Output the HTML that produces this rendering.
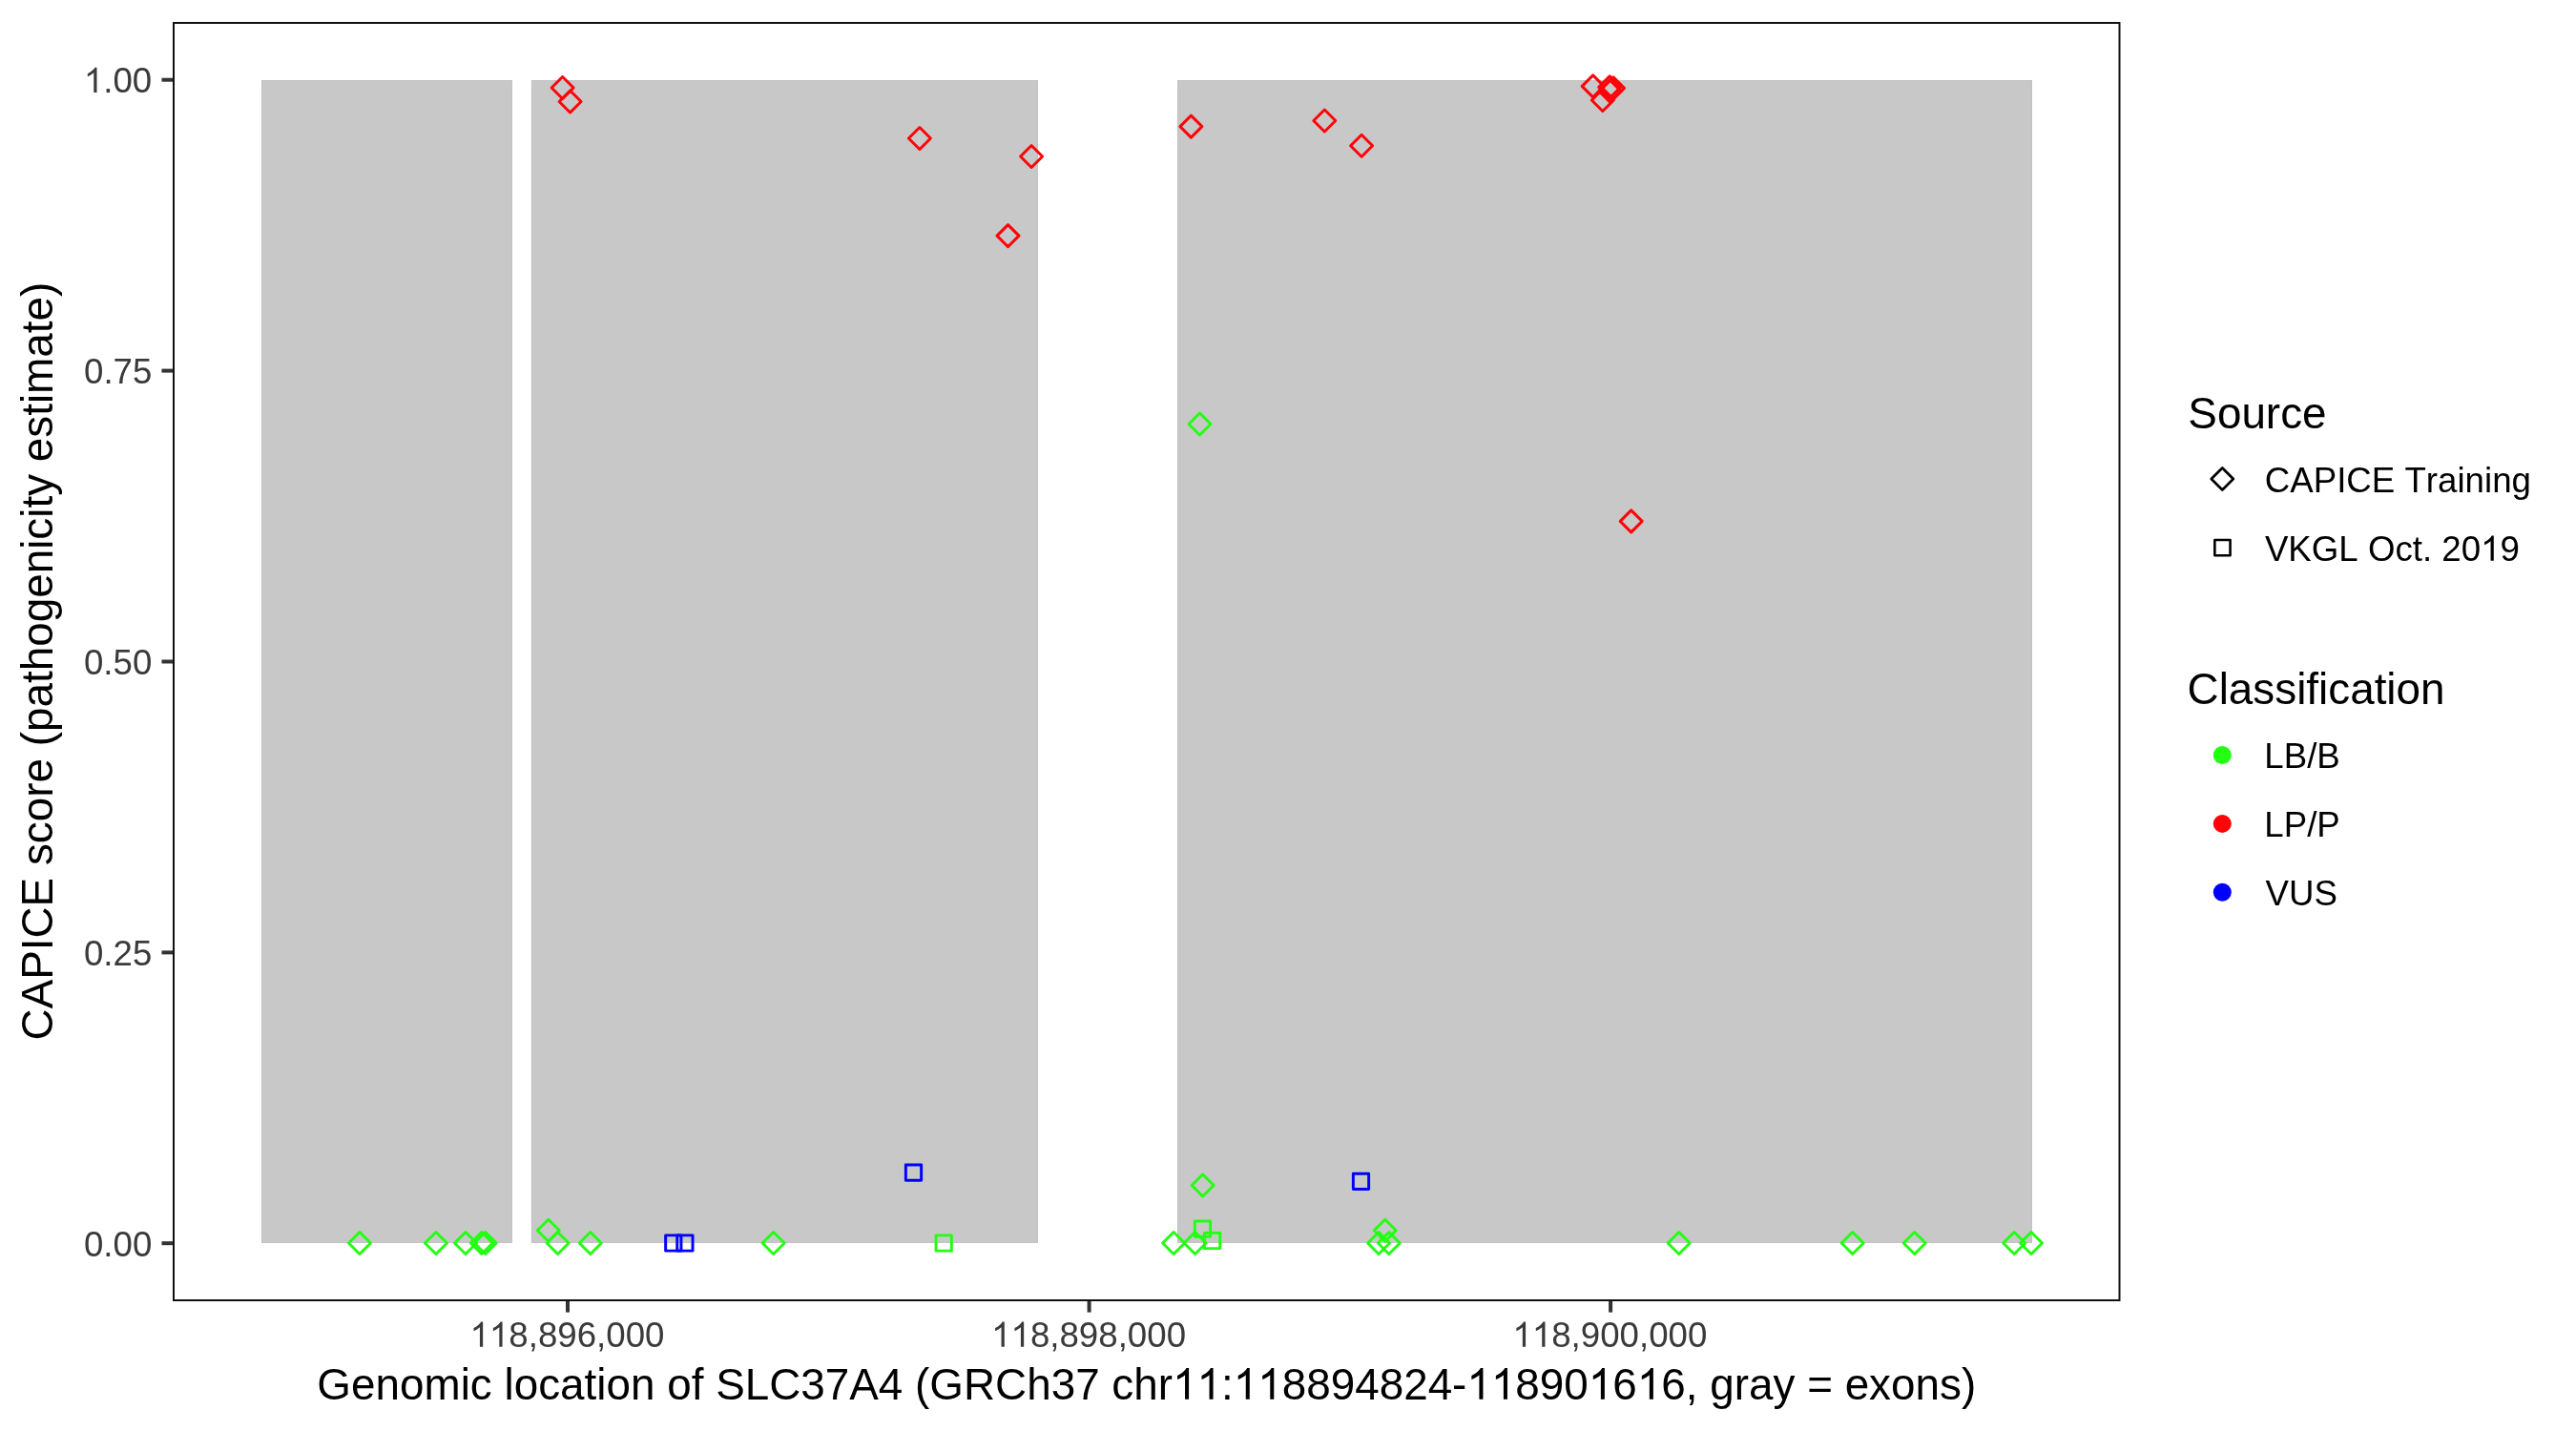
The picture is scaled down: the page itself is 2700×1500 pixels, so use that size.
<!DOCTYPE html>
<html><head><meta charset="utf-8"><style>
html,body{margin:0;padding:0;background:#fff;width:2700px;height:1500px;overflow:hidden}
svg{display:block;will-change:transform;font-family:"Liberation Sans",sans-serif;font-kerning:none}
text{font-kerning:none}
</style></head><body>
<svg width="2700" height="1500" viewBox="0 0 2700 1500">
<rect x="0" y="0" width="2700" height="1500" fill="#FFFFFF"/>
<rect x="274.07" y="84.05" width="262.77" height="1218.95" fill="#C8C8C8"/><rect x="274.57" y="84.55" width="261.77" height="1217.95" fill="none" stroke="#C2C2C2" stroke-width="1"/><rect x="556.93" y="84.05" width="530.90" height="1218.95" fill="#C8C8C8"/><rect x="557.43" y="84.55" width="529.90" height="1217.95" fill="none" stroke="#C2C2C2" stroke-width="1"/><rect x="1234.07" y="84.05" width="895.88" height="1218.95" fill="#C8C8C8"/><rect x="1234.57" y="84.55" width="894.88" height="1217.95" fill="none" stroke="#C2C2C2" stroke-width="1"/>
<path d="M1245.99 444.50L1257.50 432.99L1269.01 444.50L1257.50 456.01Z" fill="none" stroke="#22FF11" stroke-width="2.95" stroke-linejoin="round"/><path d="M1249.15 1242.50L1260.66 1230.99L1272.17 1242.50L1260.66 1254.01Z" fill="none" stroke="#22FF11" stroke-width="2.95" stroke-linejoin="round"/><path d="M365.46 1303.00L376.97 1291.49L388.48 1303.00L376.97 1314.51Z" fill="none" stroke="#22FF11" stroke-width="2.95" stroke-linejoin="round"/><path d="M445.43 1303.00L456.94 1291.49L468.45 1303.00L456.94 1314.51Z" fill="none" stroke="#22FF11" stroke-width="2.95" stroke-linejoin="round"/><path d="M476.49 1303.00L488.00 1291.49L499.51 1303.00L488.00 1314.51Z" fill="none" stroke="#22FF11" stroke-width="2.95" stroke-linejoin="round"/><path d="M493.33 1303.00L504.84 1291.49L516.35 1303.00L504.84 1314.51Z" fill="none" stroke="#22FF11" stroke-width="2.95" stroke-linejoin="round"/><path d="M497.19 1303.00L508.70 1291.49L520.21 1303.00L508.70 1314.51Z" fill="none" stroke="#22FF11" stroke-width="2.95" stroke-linejoin="round"/><path d="M563.27 1289.78L574.78 1278.27L586.29 1289.78L574.78 1301.29Z" fill="none" stroke="#22FF11" stroke-width="2.95" stroke-linejoin="round"/><path d="M573.06 1303.00L584.57 1291.49L596.08 1303.00L584.57 1314.51Z" fill="none" stroke="#22FF11" stroke-width="2.95" stroke-linejoin="round"/><path d="M607.29 1303.00L618.80 1291.49L630.31 1303.00L618.80 1314.51Z" fill="none" stroke="#22FF11" stroke-width="2.95" stroke-linejoin="round"/><path d="M799.14 1303.00L810.65 1291.49L822.16 1303.00L810.65 1314.51Z" fill="none" stroke="#22FF11" stroke-width="2.95" stroke-linejoin="round"/><path d="M1218.62 1303.00L1230.13 1291.49L1241.64 1303.00L1230.13 1314.51Z" fill="none" stroke="#22FF11" stroke-width="2.95" stroke-linejoin="round"/><path d="M1241.09 1303.00L1252.60 1291.49L1264.11 1303.00L1252.60 1314.51Z" fill="none" stroke="#22FF11" stroke-width="2.95" stroke-linejoin="round"/><path d="M1440.23 1289.70L1451.74 1278.19L1463.25 1289.70L1451.74 1301.21Z" fill="none" stroke="#22FF11" stroke-width="2.95" stroke-linejoin="round"/><path d="M1433.59 1303.00L1445.10 1291.49L1456.61 1303.00L1445.10 1314.51Z" fill="none" stroke="#22FF11" stroke-width="2.95" stroke-linejoin="round"/><path d="M1444.29 1303.00L1455.80 1291.49L1467.31 1303.00L1455.80 1314.51Z" fill="none" stroke="#22FF11" stroke-width="2.95" stroke-linejoin="round"/><path d="M1748.16 1303.00L1759.67 1291.49L1771.18 1303.00L1759.67 1314.51Z" fill="none" stroke="#22FF11" stroke-width="2.95" stroke-linejoin="round"/><path d="M1930.19 1303.00L1941.70 1291.49L1953.21 1303.00L1941.70 1314.51Z" fill="none" stroke="#22FF11" stroke-width="2.95" stroke-linejoin="round"/><path d="M1995.19 1303.00L2006.70 1291.49L2018.21 1303.00L2006.70 1314.51Z" fill="none" stroke="#22FF11" stroke-width="2.95" stroke-linejoin="round"/><path d="M2099.69 1303.00L2111.20 1291.49L2122.71 1303.00L2111.20 1314.51Z" fill="none" stroke="#22FF11" stroke-width="2.95" stroke-linejoin="round"/><path d="M2117.49 1303.00L2129.00 1291.49L2140.51 1303.00L2129.00 1314.51Z" fill="none" stroke="#22FF11" stroke-width="2.95" stroke-linejoin="round"/><rect x="981.06" y="1294.86" width="16.28" height="16.28" fill="none" stroke="#22FF11" stroke-width="2.95" stroke-linejoin="round"/><rect x="1252.36" y="1279.96" width="16.28" height="16.28" fill="none" stroke="#22FF11" stroke-width="2.95" stroke-linejoin="round"/><rect x="1262.46" y="1292.36" width="16.28" height="16.28" fill="none" stroke="#22FF11" stroke-width="2.95" stroke-linejoin="round"/><rect x="697.66" y="1294.86" width="16.28" height="16.28" fill="none" stroke="#0000FF" stroke-width="2.95" stroke-linejoin="round"/><rect x="709.76" y="1294.86" width="16.28" height="16.28" fill="none" stroke="#0000FF" stroke-width="2.95" stroke-linejoin="round"/><rect x="949.36" y="1221.06" width="16.28" height="16.28" fill="none" stroke="#0000FF" stroke-width="2.95" stroke-linejoin="round"/><rect x="1418.36" y="1230.26" width="16.28" height="16.28" fill="none" stroke="#0000FF" stroke-width="2.95" stroke-linejoin="round"/><path d="M578.09 92.00L589.60 80.49L601.11 92.00L589.60 103.51Z" fill="none" stroke="#FF0308" stroke-width="2.95" stroke-linejoin="round"/><path d="M586.09 106.50L597.60 94.99L609.11 106.50L597.60 118.01Z" fill="none" stroke="#FF0308" stroke-width="2.95" stroke-linejoin="round"/><path d="M952.39 145.00L963.90 133.49L975.41 145.00L963.90 156.51Z" fill="none" stroke="#FF0308" stroke-width="2.95" stroke-linejoin="round"/><path d="M1069.59 164.00L1081.10 152.49L1092.61 164.00L1081.10 175.51Z" fill="none" stroke="#FF0308" stroke-width="2.95" stroke-linejoin="round"/><path d="M1044.99 247.10L1056.50 235.59L1068.01 247.10L1056.50 258.61Z" fill="none" stroke="#FF0308" stroke-width="2.95" stroke-linejoin="round"/><path d="M1236.89 132.60L1248.40 121.09L1259.91 132.60L1248.40 144.11Z" fill="none" stroke="#FF0308" stroke-width="2.95" stroke-linejoin="round"/><path d="M1376.79 126.50L1388.30 114.99L1399.81 126.50L1388.30 138.01Z" fill="none" stroke="#FF0308" stroke-width="2.95" stroke-linejoin="round"/><path d="M1415.59 152.70L1427.10 141.19L1438.61 152.70L1427.10 164.21Z" fill="none" stroke="#FF0308" stroke-width="2.95" stroke-linejoin="round"/><path d="M1658.19 90.40L1669.70 78.89L1681.21 90.40L1669.70 101.91Z" fill="none" stroke="#FF0308" stroke-width="2.95" stroke-linejoin="round"/><path d="M1668.29 105.00L1679.80 93.49L1691.31 105.00L1679.80 116.51Z" fill="none" stroke="#FF0308" stroke-width="2.95" stroke-linejoin="round"/><path d="M1675.69 91.40L1687.20 79.89L1698.71 91.40L1687.20 102.91Z" fill="none" stroke="#FF0308" stroke-width="2.95" stroke-linejoin="round"/><path d="M1679.49 92.40L1691.00 80.89L1702.51 92.40L1691.00 103.91Z" fill="none" stroke="#FF0308" stroke-width="2.95" stroke-linejoin="round"/><path d="M1675.89 95.40L1687.40 83.89L1698.91 95.40L1687.40 106.91Z" fill="none" stroke="#FF0308" stroke-width="2.95" stroke-linejoin="round"/><path d="M1698.19 546.40L1709.70 534.89L1721.21 546.40L1709.70 557.91Z" fill="none" stroke="#FF0308" stroke-width="2.95" stroke-linejoin="round"/>
<rect x="182" y="24" width="2039.5" height="1339" fill="none" stroke="#111" stroke-width="2"/>
<line x1="169.5" y1="83.7" x2="181" y2="83.7" stroke="#333" stroke-width="4"/><line x1="169.5" y1="388.6" x2="181" y2="388.6" stroke="#333" stroke-width="4"/><line x1="169.5" y1="693.5" x2="181" y2="693.5" stroke="#333" stroke-width="4"/><line x1="169.5" y1="998.4" x2="181" y2="998.4" stroke="#333" stroke-width="4"/><line x1="169.5" y1="1303.2" x2="181" y2="1303.2" stroke="#333" stroke-width="4"/><line x1="595.0" y1="1364" x2="595.0" y2="1375.6" stroke="#333" stroke-width="4"/><line x1="1141.6" y1="1364" x2="1141.6" y2="1375.6" stroke="#333" stroke-width="4"/><line x1="1688.1" y1="1364" x2="1688.1" y2="1375.6" stroke="#333" stroke-width="4"/>
<text x="108.24 118.43 138.82" y="96.90" font-size="36.67" fill="#3A3A3A">.00</text><path transform="translate(87.84,96.90) scale(0.017905,-0.017905)" d="M763 0H583V1147Q518 1085 412.5 1023Q307 961 223 930V1104Q374 1175 487 1274Q600 1373 647 1466H763Z" fill="#3A3A3A"/><text x="88.03 108.43 118.62 139.01" y="401.90" font-size="36.67" fill="#3A3A3A">0.75</text><text x="87.90 108.29 118.48 138.88" y="706.90" font-size="36.67" fill="#3A3A3A">0.50</text><text x="87.97 108.36 118.55 138.95" y="1011.90" font-size="36.67" fill="#3A3A3A">0.25</text><text x="87.90 108.29 118.48 138.88" y="1316.90" font-size="36.67" fill="#3A3A3A">0.00</text><text x="533.30 553.69 563.88 584.27 604.67 625.06 635.25 655.64 676.04" y="1411.80" font-size="36.67" fill="#3A3A3A">8,896,000</text><path transform="translate(492.51,1411.80) scale(0.017905,-0.017905)" d="M763 0H583V1147Q518 1085 412.5 1023Q307 961 223 930V1104Q374 1175 487 1274Q600 1373 647 1466H763Z" fill="#3A3A3A"/><path transform="translate(512.90,1411.80) scale(0.017905,-0.017905)" d="M763 0H583V1147Q518 1085 412.5 1023Q307 961 223 930V1104Q374 1175 487 1274Q600 1373 647 1466H763Z" fill="#3A3A3A"/><text x="1079.90 1100.29 1110.48 1130.87 1151.27 1171.66 1181.85 1202.24 1222.64" y="1411.80" font-size="36.67" fill="#3A3A3A">8,898,000</text><path transform="translate(1039.11,1411.80) scale(0.017905,-0.017905)" d="M763 0H583V1147Q518 1085 412.5 1023Q307 961 223 930V1104Q374 1175 487 1274Q600 1373 647 1466H763Z" fill="#3A3A3A"/><path transform="translate(1059.50,1411.80) scale(0.017905,-0.017905)" d="M763 0H583V1147Q518 1085 412.5 1023Q307 961 223 930V1104Q374 1175 487 1274Q600 1373 647 1466H763Z" fill="#3A3A3A"/><text x="1626.20 1646.59 1656.78 1677.17 1697.57 1717.96 1728.15 1748.54 1768.94" y="1411.80" font-size="36.67" fill="#3A3A3A">8,900,000</text><path transform="translate(1585.41,1411.80) scale(0.017905,-0.017905)" d="M763 0H583V1147Q518 1085 412.5 1023Q307 961 223 930V1104Q374 1175 487 1274Q600 1373 647 1466H763Z" fill="#3A3A3A"/><path transform="translate(1605.80,1411.80) scale(0.017905,-0.017905)" d="M763 0H583V1147Q518 1085 412.5 1023Q307 961 223 930V1104Q374 1175 487 1274Q600 1373 647 1466H763Z" fill="#3A3A3A"/><text x="332.35 368.00 393.49 418.98 444.47 482.64 492.82 528.47 538.65 564.14 587.06 612.55 625.28 635.46 660.95 699.17 724.66 750.13 780.69 806.18 839.28 864.77 890.26 920.82 959.05 974.31 1009.96 1043.05 1076.15 1101.64 1127.13 1165.35 1188.26 1213.75 1279.99 1343.70 1369.19 1394.68 1420.17 1445.65 1471.14 1496.63 1522.12 1588.36 1613.85 1639.34 1690.31 1741.29 1766.78 1792.24 1817.73 1832.99 1858.48 1894.13 1933.63 1959.12 1982.03 2007.52 2033.01 2055.92" y="1466.80" font-size="45.83" fill="#000">GenomiclocationofSLC37A4(GRCh37chr:8894824-89066,gray=exons)</text><path transform="translate(1229.01,1466.80) scale(0.022378,-0.022378)" d="M763 0H583V1147Q518 1085 412.5 1023Q307 961 223 930V1104Q374 1175 487 1274Q600 1373 647 1466H763Z" fill="#000"/><path transform="translate(1254.50,1466.80) scale(0.022378,-0.022378)" d="M763 0H583V1147Q518 1085 412.5 1023Q307 961 223 930V1104Q374 1175 487 1274Q600 1373 647 1466H763Z" fill="#000"/><path transform="translate(1292.72,1466.80) scale(0.022378,-0.022378)" d="M763 0H583V1147Q518 1085 412.5 1023Q307 961 223 930V1104Q374 1175 487 1274Q600 1373 647 1466H763Z" fill="#000"/><path transform="translate(1318.21,1466.80) scale(0.022378,-0.022378)" d="M763 0H583V1147Q518 1085 412.5 1023Q307 961 223 930V1104Q374 1175 487 1274Q600 1373 647 1466H763Z" fill="#000"/><path transform="translate(1537.38,1466.80) scale(0.022378,-0.022378)" d="M763 0H583V1147Q518 1085 412.5 1023Q307 961 223 930V1104Q374 1175 487 1274Q600 1373 647 1466H763Z" fill="#000"/><path transform="translate(1562.87,1466.80) scale(0.022378,-0.022378)" d="M763 0H583V1147Q518 1085 412.5 1023Q307 961 223 930V1104Q374 1175 487 1274Q600 1373 647 1466H763Z" fill="#000"/><path transform="translate(1664.82,1466.80) scale(0.022378,-0.022378)" d="M763 0H583V1147Q518 1085 412.5 1023Q307 961 223 930V1104Q374 1175 487 1274Q600 1373 647 1466H763Z" fill="#000"/><path transform="translate(1715.80,1466.80) scale(0.022378,-0.022378)" d="M763 0H583V1147Q518 1085 412.5 1023Q307 961 223 930V1104Q374 1175 487 1274Q600 1373 647 1466H763Z" fill="#000"/><text transform="translate(55.20,1090.43) rotate(-90)" x="0.00 33.10 63.67 94.23 106.97 140.06 170.63 183.36 206.28 229.19 254.68 269.94 295.43 308.17 323.43 348.92 374.41 387.14 412.63 438.12 463.60 489.09 514.58 524.76 547.68 557.86 570.59 593.51 606.24 631.73 654.64 667.38 677.56 715.74 741.22 753.96 779.45" y="0" font-size="45.83" fill="#000">CAPICE score (pathogenicity estimate)</text><text x="2293.32 2323.89 2349.38 2374.87 2390.13 2413.04" y="449.20" font-size="45.83" fill="#000">Source</text><text x="2373.75 2400.23 2424.69 2449.15 2459.34 2485.82 2520.47 2542.87 2555.08 2575.47 2583.62 2604.01 2612.16 2632.56" y="515.70" font-size="36.67" fill="#000">CAPICETraining</text><text x="2373.88 2398.34 2422.79 2451.32 2481.90 2510.42 2528.76 2538.95 2559.32 2579.72 2620.50" y="587.80" font-size="36.67" fill="#000">VKGLOct.209</text><path transform="translate(2600.11,587.80) scale(0.017905,-0.017905)" d="M763 0H583V1147Q518 1085 412.5 1023Q307 961 223 930V1104Q374 1175 487 1274Q600 1373 647 1466H763Z" fill="#000"/><text x="2292.53 2325.63 2335.81 2361.30 2384.21 2407.13 2417.31 2430.04 2440.22 2463.14 2488.63 2501.36 2511.54 2537.03" y="737.70" font-size="45.83" fill="#000">Classification</text><text x="2373.31 2393.71 2418.17 2428.35" y="805.20" font-size="36.67" fill="#000">LB/B</text><text x="2373.31 2393.71 2418.17 2428.35" y="877.10" font-size="36.67" fill="#000">LP/P</text><text x="2374.56 2399.02 2425.50" y="949.00" font-size="36.67" fill="#000">VUS</text>
<path d="M2317.79 502.06L2329.30 490.55L2340.81 502.06L2329.30 513.57Z" fill="none" stroke="#000" stroke-width="2.7" stroke-linejoin="round"/>
<rect x="2321.35" y="566.05" width="16.20" height="16.20" fill="none" stroke="#000" stroke-width="2.6" stroke-linejoin="round"/>
<circle cx="2329.3" cy="791.5" r="9.5" fill="#22FF11"/>
<circle cx="2329.3" cy="863.4" r="9.5" fill="#FF0308"/>
<circle cx="2329.3" cy="935.3" r="9.5" fill="#0000FF"/>
</svg>
</body></html>
